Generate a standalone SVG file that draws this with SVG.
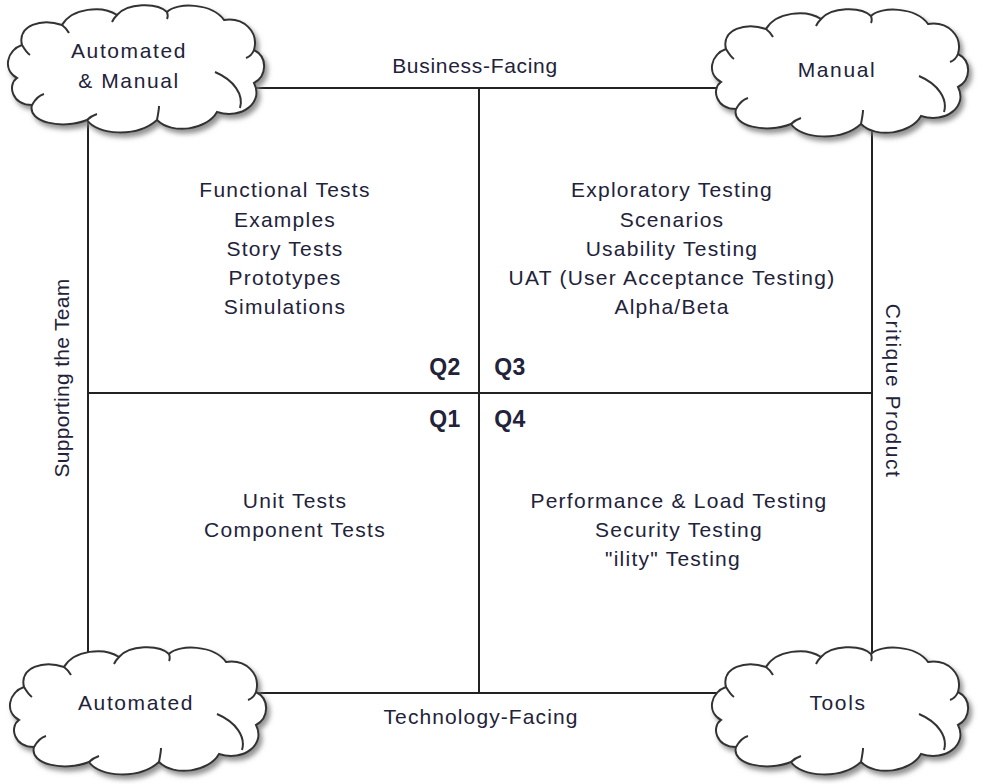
<svg xmlns="http://www.w3.org/2000/svg" width="1008" height="784" viewBox="0 0 1008 784">
<style>
.t{font-family:"Liberation Sans",Arial,sans-serif;font-size:21px;fill:#22223a;text-anchor:middle;letter-spacing:1.25px}
.c{letter-spacing:1.6px}
.a{letter-spacing:0.7px}
.q{font-family:"Liberation Sans",Arial,sans-serif;font-size:23px;font-weight:bold;fill:#22223a;text-anchor:middle;letter-spacing:0.5px}
.ln{stroke:#222;stroke-width:2;fill:none}
.cl{fill:#fff;stroke:#333;stroke-width:2;filter:url(#sh)}
.cu{fill:none;stroke:#333;stroke-width:2}
</style>
<defs>
<filter id="sh" x="-10%" y="-10%" width="125%" height="130%">
<feDropShadow dx="3" dy="4" stdDeviation="2.5" flood-color="#777" flood-opacity="0.8"/>
</filter>
<g id="cloud">
<path class="cl" d="M 20,45 C 15,25 40,18 60,25 C 70,8 100,5 115,15 C 125,3 155,2 165,12 C 175,2 210,3 222,20 C 242,17 257,32 252,50 C 266,57 265,76 252,83 C 262,102 240,120 215,112 C 205,130 170,135 155,120 C 135,138 95,135 85,120 C 60,130 25,122 30,105 C 10,105 5,85 15,78 C 0,70 5,50 20,45 Z"/>
<path class="cu" d="M 213,72 C 232,80 242,95 238,108 M 252,50 C 250,55 247,57 244,58 M 30,105 C 34,98 38,95 42,94 M 20,45 C 23,50 25,53 28,55 M 60,25 C 64,28 66,31 67,33 M 115,15 C 112,18 111,20 110,22 M 165,12 C 166,15 166,17 165,19 M 155,120 C 156,114 157,110 157,106 M 85,120 C 88,117 92,115 95,114"/>
</g>
</defs>
<rect width="1008" height="784" fill="#fff"/>
<g id="connectors">
<rect class="ln" x="88" y="88" width="784" height="605"/>
<line class="ln" x1="479" y1="88" x2="479" y2="693"/>
<line class="ln" x1="88" y1="393" x2="872" y2="393"/>
</g>
<g id="cloud-automated-manual">
<use href="#cloud" transform="translate(2,0)"/>
<text class="t c" x="129" y="58">Automated</text>
<text class="t c" x="129" y="88">&amp; Manual</text>
</g>
<g id="cloud-manual">
<use href="#cloud" transform="translate(706,4)"/>
<text class="t c" x="837" y="77">Manual</text>
</g>
<g id="cloud-automated">
<use href="#cloud" transform="translate(4,642)"/>
<text class="t c" x="136" y="710">Automated</text>
</g>
<g id="cloud-tools">
<use href="#cloud" transform="translate(706,642)"/>
<text class="t c" x="838" y="710">Tools</text>
</g>
<g id="axis-labels">
<text class="t a" x="475" y="73">Business-Facing</text>
<text class="t" x="481" y="724" style="letter-spacing:1.1px">Technology-Facing</text>
<text class="t" transform="translate(69,378) rotate(-90)" style="letter-spacing:0.3px">Supporting the Team</text>
<text class="t" transform="translate(886,391) rotate(90)" style="letter-spacing:1.5px">Critique Product</text>
</g>
<g id="q2">
<text class="t" x="285" y="197">Functional Tests</text>
<text class="t" x="285" y="227">Examples</text>
<text class="t" x="285" y="256">Story Tests</text>
<text class="t" x="285" y="285">Prototypes</text>
<text class="t" x="285" y="314">Simulations</text>
<text class="q" x="445" y="375">Q2</text>
</g>
<g id="q3">
<text class="t" x="672" y="197">Exploratory Testing</text>
<text class="t" x="672" y="227">Scenarios</text>
<text class="t" x="672" y="256">Usability Testing</text>
<text class="t" x="672" y="285">UAT (User Acceptance Testing)</text>
<text class="t" x="672" y="314">Alpha/Beta</text>
<text class="q" x="510" y="375">Q3</text>
</g>
<g id="q1">
<text class="q" x="445" y="427">Q1</text>
<text class="t" x="295" y="508">Unit Tests</text>
<text class="t" x="295" y="537">Component Tests</text>
</g>
<g id="q4">
<text class="q" x="510" y="427">Q4</text>
<text class="t" x="679" y="508">Performance &amp; Load Testing</text>
<text class="t" x="679" y="537">Security Testing</text>
<text class="t" x="673" y="566">"ility" Testing</text>
</g>
</svg>
